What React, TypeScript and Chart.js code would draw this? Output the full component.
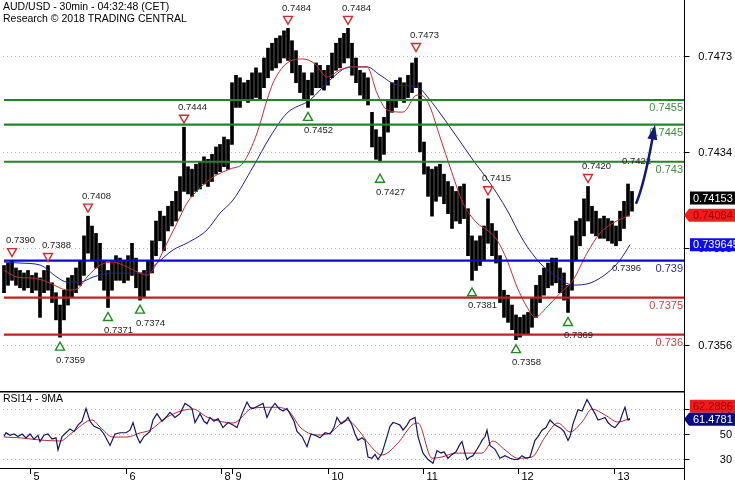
import React, { useEffect, useRef } from "react";
import { Chart, registerables } from "chart.js";

Chart.register(...registerables);

const FONT = '"Liberation Sans", Arial, Helvetica, sans-serif';

// ---------- Price bars (hourly high/low, bar k sits at index 2*(k+1), index unit = 30 min) ----------
const barHighs = [
  0.7388, 0.7389, 0.739, 0.7387, 0.7386, 0.7385, 0.7386, 0.7384, 0.7385, 0.7383,
  0.7386, 0.7388, 0.7381, 0.7377, 0.7372, 0.7378, 0.7383, 0.7384, 0.7387, 0.739,
  0.74, 0.7408, 0.7404, 0.7401, 0.7397, 0.739, 0.7386, 0.739, 0.7392, 0.7391,
  0.739, 0.7392, 0.7397, 0.7391, 0.7385, 0.7386, 0.739, 0.7398, 0.7406, 0.741,
  0.7408, 0.7412, 0.7414, 0.7418, 0.7424, 0.7444, 0.7428, 0.7427, 0.7429, 0.743,
  0.7432, 0.7431, 0.7433, 0.7436, 0.7437, 0.744, 0.7439, 0.7462, 0.7465, 0.7464,
  0.7462, 0.7463, 0.7466, 0.7468, 0.7466, 0.7472, 0.7476, 0.7478, 0.748, 0.7481,
  0.7483, 0.7484, 0.7479, 0.7475, 0.7469, 0.7466, 0.7463, 0.7466, 0.747, 0.7469,
  0.7467, 0.7469, 0.7474, 0.7478, 0.748, 0.7482, 0.7484, 0.7478, 0.7472, 0.7467,
  0.7466, 0.7464, 0.745, 0.7443, 0.744, 0.7448, 0.7455, 0.7462, 0.7463, 0.7464,
  0.7462, 0.7465, 0.747, 0.7472, 0.7462, 0.7438, 0.7428, 0.7427, 0.7428, 0.7429,
  0.7425, 0.7422, 0.742, 0.7418, 0.742, 0.7421, 0.7411, 0.74, 0.7398, 0.74,
  0.7404, 0.7415, 0.7405, 0.7402, 0.7392, 0.7378, 0.7376, 0.7372, 0.7368, 0.7367,
  0.7368, 0.7369, 0.7375, 0.738, 0.7384, 0.7387, 0.7389, 0.7391, 0.7391, 0.7387,
  0.7385, 0.738, 0.74, 0.7406, 0.7407, 0.7415, 0.742, 0.7412, 0.741, 0.7407,
  0.7408, 0.7407, 0.7406, 0.7404, 0.741, 0.7414, 0.7421, 0.7418,
];
const barLows = [
  0.7377, 0.738, 0.7382, 0.738, 0.7379, 0.7378, 0.7379, 0.7377, 0.7378, 0.7367,
  0.7377, 0.7378, 0.7373, 0.7366, 0.7359, 0.7366, 0.7372, 0.7375, 0.7377, 0.738,
  0.7384, 0.7393, 0.739, 0.7387, 0.7382, 0.7378, 0.7371, 0.7378, 0.7382, 0.7382,
  0.7381, 0.7382, 0.7384, 0.7379, 0.7374, 0.7375, 0.7378, 0.7385, 0.7392, 0.7398,
  0.7394, 0.7402, 0.7404, 0.7406, 0.741, 0.7418, 0.7417, 0.7416, 0.7418, 0.7419,
  0.7421, 0.742, 0.7422, 0.7425, 0.7426, 0.7428, 0.7427, 0.7437, 0.7452, 0.7452,
  0.7455, 0.7454, 0.7455, 0.7456, 0.7455, 0.746, 0.7464, 0.7467, 0.7468, 0.747,
  0.7472, 0.7471, 0.7466, 0.7462, 0.7458, 0.7455, 0.7452, 0.7457, 0.746, 0.746,
  0.7459, 0.7461, 0.7464, 0.7467, 0.7468, 0.747, 0.7472, 0.7465, 0.7462, 0.7457,
  0.7455, 0.7453, 0.7436, 0.7431, 0.743, 0.7433, 0.7442, 0.745, 0.7452, 0.7455,
  0.7454, 0.7456, 0.7458, 0.746, 0.7434, 0.7425, 0.7416, 0.7408, 0.7414, 0.7416,
  0.7413, 0.7409, 0.7403, 0.7406, 0.7405, 0.7407, 0.7392, 0.7382, 0.7386, 0.7388,
  0.739, 0.7397, 0.7392, 0.7389, 0.7373, 0.7367, 0.7365, 0.7362, 0.7358, 0.7359,
  0.736, 0.736, 0.7363, 0.7367, 0.7373, 0.7376, 0.7379, 0.738, 0.7381, 0.7377,
  0.7374, 0.7369, 0.7378, 0.739, 0.7396, 0.74, 0.7406, 0.7401, 0.74, 0.7399,
  0.7399, 0.7398, 0.7397, 0.7396, 0.7398, 0.7403, 0.7408, 0.741,
];
const lastClose = 0.74153;

// ---------- Moving averages ----------
const redMaIdx = [
  2, 8.5, 16.5, 25, 30, 33.5, 38.5, 43.5, 50, 56.5, 63.5, 70, 73.5, 78.5, 83.5, 88.5, 93.5, 100, 106.5, 115,
  121.5, 128.5, 133.5, 136.5, 141.5, 146.5, 151.5, 157.5, 163.5, 170, 177.5, 183.5, 188.5, 193.5, 201.5, 208.5,
  211.5, 215, 220, 225, 231.5, 238.5, 243.5, 248.5, 253.5, 258.5, 263.5, 267.5, 273.5, 280, 286.5, 293.5, 300,
  306.5, 315,
];
const redMaVals = [
  0.73862, 0.73833, 0.73829, 0.73809, 0.73789, 0.73781, 0.73785, 0.73833, 0.73882, 0.73894,
  0.73874, 0.73849, 0.73841, 0.7389, 0.73971, 0.74052, 0.74133, 0.74194, 0.74238, 0.74271,
  0.74295, 0.74416, 0.7455, 0.74619, 0.74684, 0.74712, 0.74716, 0.74696, 0.74643, 0.74672,
  0.74684, 0.74684, 0.74578, 0.7451, 0.74501, 0.7457, 0.74566, 0.74522, 0.744, 0.74279,
  0.74133, 0.74052, 0.74024, 0.73983, 0.73902, 0.73793, 0.73712, 0.73671, 0.73712, 0.73768,
  0.73821, 0.7393, 0.74011, 0.74052, 0.74084,
];
const blueMaIdx = [
  2, 10, 20, 28.5, 33.5, 40, 46.5, 55, 63.5, 71.5, 78.5, 86.5, 93.5, 103.5, 110, 116.5, 126.5, 135, 143.5, 155,
  165, 175, 183.5, 190, 198.5, 208.5, 215, 220, 228.5, 236.5, 245, 253.5, 261.5, 270, 278.5, 286.5, 295, 303.5,
  310, 315,
];
const blueMaVals = [
  0.73894, 0.7389, 0.73882, 0.73833, 0.73813, 0.73813, 0.73833, 0.73849, 0.73849, 0.73849,
  0.7389, 0.73943, 0.73971, 0.74024, 0.74092, 0.74145, 0.74279, 0.744, 0.74497, 0.7455,
  0.74631, 0.74684, 0.74684, 0.74651, 0.74611, 0.74603, 0.7455, 0.74497, 0.744, 0.74307,
  0.74214, 0.74105, 0.73983, 0.7389, 0.73833, 0.73801, 0.73809, 0.73849, 0.73902, 0.739645,
];
const redMaLast = 0.74084;
const blueMaLast = 0.739645;

// ---------- Horizontal levels ----------
const levelValues = [0.7455, 0.7445, 0.743, 0.739, 0.7375, 0.736];
const levelLabels = ["0.7455", "0.7445", "0.743", "0.739", "0.7375", "0.736"];
const levelStart = 2;
const levelEnd = 342;

// ---------- Pivots ----------
const pivotHighIdx = [6, 24, 44, 92, 144, 174, 208, 244, 294, 314];
const pivotHighVals = [0.739, 0.7388, 0.7408, 0.7444, 0.7484, 0.7484, 0.7473, 0.7415, 0.742, 0.7422];
const pivotHighLabels = ["0.7390", "0.7388", "0.7408", "0.7444", "0.7484", "0.7484", "0.7473", "0.7415", "0.7420", "0.7422"];
const pivotHighMarked = [true, true, true, true, true, true, true, true, true, false];
const pivotLowIdx = [30, 54, 70, 154, 190, 236, 258, 284, 308];
const pivotLowVals = [0.7359, 0.7371, 0.7374, 0.7452, 0.7427, 0.7381, 0.7358, 0.7369, 0.7396];
const pivotLowLabels = ["0.7359", "0.7371", "0.7374", "0.7452", "0.7427", "0.7381", "0.7358", "0.7369", "0.7396"];
const pivotLowMarked = [true, true, true, true, true, true, true, true, false];

// ---------- Forecast arrow (start, control, tip) ----------
const arrowIdx = [318, 322, 327.5];
const arrowVals = [0.7413, 0.74206, 0.7445];

// ---------- Axes ----------
const priceTickVals = [0.7473, 0.7434, 0.7395, 0.7356];
const priceTickLabels = ["0.7473", "0.7434", "0.7395", "0.7356"];
const dayTickIdx = [15, 63, 110.5, 116, 164, 211.5, 259, 307];
const dayLabels = ["5", "6", "8", "9", "10", "11", "12", "13"];
const rsiTickVals = [70, 50, 30];
const rsiTickLabels = ["70", "50", "30"];

// ---------- RSI ----------
const rsiIdx = [
  2, 3, 5, 7, 9, 11, 13, 15, 17, 19, 20, 22, 24, 26, 28, 29, 31, 33, 35, 37, 39, 41, 43, 45, 47, 50, 52, 55, 57.5, 60,
  63, 65, 66.5, 68.5, 70, 72, 75, 76.5, 78.5, 81, 83.5, 85, 87.5, 90, 92.5, 94.5, 96, 97.5, 100, 102, 103.5, 105, 107,
  109, 111.5, 114, 116.5, 118.5, 121, 123.5, 125, 126.5, 129, 131.5, 133.5, 135.5, 137.5, 139.5, 141.5, 143.5, 145,
  147, 148.5, 151, 153.5, 155.5, 157.5, 160, 162.5, 165, 167, 168.5, 170.5, 172.5, 174, 176, 177.5, 179, 181, 182.5,
  184, 186, 187.5, 189, 191, 193.5, 195, 196.5, 198.5, 200, 201.5, 203.5, 205, 207.5, 209, 211.5, 214, 216.5, 218.5,
  220.5, 222, 224, 226, 228, 230, 231, 232.5, 233.5, 235, 236.5, 238.5, 240, 241, 242.5, 243.5, 245, 247.5, 250,
  252.5, 255, 257, 259, 261, 263, 265, 266.5, 267.5, 269, 271, 273, 275, 277.5, 280, 282, 284, 285, 286.5, 289, 291,
  293.5, 295, 296, 297.5, 299, 301, 302.5, 304, 306, 307.5, 309, 310, 311, 312.5, 314, 315,
];
const rsiVals = [
  48, 51, 49, 50, 48, 50, 47, 50, 46, 49, 44, 49, 50, 46, 47, 37.5, 48, 51, 54, 52, 57, 60, 70, 60, 56, 54, 50, 41, 50, 51,
  51, 53, 59, 48, 43, 48, 52, 61, 66, 60, 64, 67, 63, 66, 74, 72, 70, 59, 66, 60, 58, 63, 60, 62, 55, 59, 57, 55, 66, 75,
  71, 70, 72, 74, 63, 70, 74, 70, 68, 70, 66, 60, 52, 48, 40, 50, 49, 47, 51, 50, 55, 63, 58, 60, 63, 57, 50, 45, 47, 45,
  32, 31, 34, 30, 35, 48, 56, 59, 58, 57, 53, 57, 61, 63, 48, 35, 30, 27, 37, 35, 36, 31, 34, 36, 42, 44, 35, 30, 32, 33,
  38, 42, 45, 48, 53, 41, 38, 31, 33, 31, 30, 30, 33, 31, 32, 40, 45, 48, 53, 55, 61, 57, 55, 52, 45, 48, 58, 69, 68, 77,
  73, 70, 66, 61, 62, 63, 59, 56, 55, 58, 60, 65, 71, 61, 61.48,
];
const rsiMaIdx = [
  2, 10, 20, 30, 36.5, 46, 50, 56.5, 63.5, 70, 75, 83.5, 96.5, 103.5, 116.5, 126.5, 138.5, 145, 150, 158.5,
  165, 173.5, 180, 184, 191, 199, 206, 209, 216, 221, 227.5, 236, 241, 246.5, 252.5, 259, 266, 272.5, 279, 285,
  291, 296, 302.5, 309, 315,
];
const rsiMaVals = [
  47.6, 47, 45.3, 44.5, 51.6, 61, 55.5, 47.6, 47.6, 50.8, 53, 63.3, 69.6, 63.3, 58.6, 70.4, 71, 67, 55.5, 49.2,
  50.8, 61, 51.6, 43, 33.5, 43, 57, 58.6, 31, 32, 35, 35, 35, 44.5, 37.5, 31, 32, 47.6, 58.6, 51.6,
  59.4, 69.6, 64.9, 59.4, 62.29,
];
const rsiLast = 61.4781;
const rsiMaLast = 62.2886;

// ---------- Ranges ----------
const X_MIN = 0;
const X_MAX = 342;
const PRICE_MIN = 0.733721;
const PRICE_MAX = 0.749548;
const RSI_MIN = 23.33;
const RSI_MAX = 83.73;

const zip = (xs: number[], ys: number[]) =>
  xs.slice(0, Math.min(xs.length, ys.length)).map((x, i) => ({ x, y: ys[i] }));

function drawBox(ctx: any, axisX: number, text: string, cy: number, bg: string, fg: string, arrow: boolean) {
  const h = 13;
  const left = axisX + 6;
  const right = axisX + 51;
  ctx.save();
  ctx.fillStyle = bg;
  ctx.beginPath();
  if (arrow) {
    ctx.moveTo(axisX, cy);
    ctx.lineTo(left - 1, cy - h / 2);
    ctx.lineTo(right, cy - h / 2);
    ctx.lineTo(right, cy + h / 2);
    ctx.lineTo(left - 1, cy + h / 2);
    ctx.closePath();
  } else {
    ctx.rect(left, cy - h / 2, right - left, h);
  }
  ctx.fill();
  ctx.fillStyle = fg;
  ctx.font = `11px ${FONT}`;
  ctx.textAlign = "left";
  ctx.textBaseline = "middle";
  ctx.fillText(text, axisX + 9, cy + 0.5);
  ctx.restore();
}

function hLine(ctx: any, x0: number, x1: number, y: number) {
  ctx.beginPath();
  ctx.moveTo(x0, y);
  ctx.lineTo(x1, y);
  ctx.stroke();
}

const mainPlugin = {
  id: "mainDeco",
  beforeDatasetsDraw(chart: any) {
    const { ctx, chartArea: a, scales } = chart;
    const y = scales.y;
    ctx.save();
    ctx.strokeStyle = "#b4b4b4";
    ctx.lineWidth = 1;
    ctx.setLineDash([1, 3]);
    priceTickVals.forEach((v) => {
      const py = Math.round(y.getPixelForValue(v)) + 0.5;
      hLine(ctx, a.left + 3, a.right, py);
    });
    ctx.restore();
  },
  afterDatasetsDraw(chart: any) {
    const { ctx, chartArea: a, scales } = chart;
    const x = scales.x;
    const y = scales.y;
    ctx.save();

    // level labels
    const levelTextColors = ["#3f8f3f", "#3f8f3f", "#3f8f3f", "#2f2fa0", "#c84646", "#c84646"];
    ctx.font = `11px ${FONT}`;
    ctx.textAlign = "right";
    ctx.textBaseline = "middle";
    levelValues.forEach((v, i) => {
      ctx.fillStyle = levelTextColors[i];
      ctx.fillText(levelLabels[i], a.right - 1, y.getPixelForValue(v) + 8);
    });

    // pivots
    ctx.font = `9.5px ${FONT}`;
    ctx.textAlign = "left";
    ctx.lineWidth = 1.4;
    pivotHighIdx.forEach((idx, i) => {
      const px = x.getPixelForValue(idx);
      const py = y.getPixelForValue(pivotHighVals[i]);
      if (pivotHighMarked[i]) {
        const ty = py - 8;
        ctx.beginPath();
        ctx.moveTo(px - 4.5, ty - 4);
        ctx.lineTo(px + 4.5, ty - 4);
        ctx.lineTo(px, ty + 4);
        ctx.closePath();
        ctx.fillStyle = "#ffffff";
        ctx.fill();
        ctx.strokeStyle = "#d42a2a";
        ctx.stroke();
      }
      ctx.fillStyle = "#1e1e1e";
      ctx.fillText(pivotHighLabels[i], px - 6, py - 20);
    });
    pivotLowIdx.forEach((idx, i) => {
      const px = x.getPixelForValue(idx);
      const py = y.getPixelForValue(pivotLowVals[i]);
      if (pivotLowMarked[i]) {
        const ty = py + 9;
        ctx.beginPath();
        ctx.moveTo(px - 4.5, ty + 4);
        ctx.lineTo(px + 4.5, ty + 4);
        ctx.lineTo(px, ty - 4);
        ctx.closePath();
        ctx.fillStyle = "#ffffff";
        ctx.fill();
        ctx.strokeStyle = "#1f8a1f";
        ctx.stroke();
      }
      ctx.fillStyle = "#1e1e1e";
      ctx.fillText(pivotLowLabels[i], px - 4, py + 23);
    });

    // forecast arrow
    const p0 = { x: x.getPixelForValue(arrowIdx[0]), y: y.getPixelForValue(arrowVals[0]) };
    const c = { x: x.getPixelForValue(arrowIdx[1]), y: y.getPixelForValue(arrowVals[1]) };
    const p1 = { x: x.getPixelForValue(arrowIdx[2]), y: y.getPixelForValue(arrowVals[2]) };
    const dx = p1.x - c.x;
    const dy = p1.y - c.y;
    const len = Math.hypot(dx, dy);
    const ux = dx / len;
    const uy = dy / len;
    const headLen = 15;
    const baseX = p1.x - ux * headLen;
    const baseY = p1.y - uy * headLen;
    ctx.strokeStyle = "#101a78";
    ctx.fillStyle = "#101a78";
    ctx.lineWidth = 2.5;
    ctx.beginPath();
    ctx.moveTo(p0.x, p0.y);
    ctx.quadraticCurveTo(c.x, c.y, baseX + ux * 2, baseY + uy * 2);
    ctx.stroke();
    ctx.beginPath();
    ctx.moveTo(p1.x, p1.y);
    ctx.lineTo(baseX - uy * 5, baseY + ux * 5);
    ctx.lineTo(baseX + uy * 5, baseY - ux * 5);
    ctx.closePath();
    ctx.fill();

    // right axis
    const ax = a.right + 0.5;
    ctx.strokeStyle = "#000";
    ctx.lineWidth = 1;
    ctx.beginPath();
    ctx.moveTo(ax, 0);
    ctx.lineTo(ax, chart.height);
    ctx.stroke();
    ctx.font = `11px ${FONT}`;
    ctx.textAlign = "right";
    ctx.textBaseline = "middle";
    ctx.fillStyle = "#000";
    priceTickVals.forEach((v, i) => {
      const py = Math.round(y.getPixelForValue(v)) + 0.5;
      hLine(ctx, ax, ax + 5, py);
      ctx.fillText(priceTickLabels[i], a.right + 48, py + 0.5);
    });

    // value boxes
    drawBox(ctx, a.right, lastClose.toFixed(5), y.getPixelForValue(lastClose), "#000000", "#ffffff", false);
    drawBox(ctx, a.right, redMaLast.toFixed(5), y.getPixelForValue(redMaLast), "#ee1c1c", "#9a0000", true);
    drawBox(ctx, a.right, blueMaLast.toFixed(6), y.getPixelForValue(blueMaLast), "#0c0cec", "#ffffff", false);

    // title
    ctx.font = `10.5px ${FONT}`;
    ctx.textAlign = "left";
    ctx.fillStyle = "#000";
    ctx.fillText("AUD/USD - 30min - 04:32:48 (CET)", 3, 7.5);
    ctx.fillText("Research \u00a9 2018 TRADING CENTRAL", 3, 19);
    ctx.restore();
  },
};

const rsiPlugin = {
  id: "rsiDeco",
  beforeDatasetsDraw(chart: any) {
    const { ctx, chartArea: a, scales } = chart;
    const y = scales.y;
    ctx.save();
    ctx.strokeStyle = "#b4b4b4";
    ctx.lineWidth = 1;
    ctx.setLineDash([1, 3]);
    rsiTickVals.forEach((v) => {
      const py = Math.round(y.getPixelForValue(v)) + 0.5;
      hLine(ctx, a.left + 3, a.right, py);
    });
    ctx.restore();
  },
  afterDatasetsDraw(chart: any) {
    const { ctx, chartArea: a, scales } = chart;
    const x = scales.x;
    const y = scales.y;
    ctx.save();
    ctx.strokeStyle = "#000";
    ctx.lineWidth = 1.5;
    hLine(ctx, a.left, a.right, a.top + 0.75);
    ctx.lineWidth = 1;
    hLine(ctx, a.left, a.right, a.bottom + 0.5);
    const ax = a.right + 0.5;
    ctx.beginPath();
    ctx.moveTo(ax, 0);
    ctx.lineTo(ax, chart.height);
    ctx.stroke();

    // rsi ticks
    ctx.font = `11px ${FONT}`;
    ctx.textAlign = "right";
    ctx.textBaseline = "middle";
    ctx.fillStyle = "#000";
    rsiTickVals.forEach((v, i) => {
      const py = Math.round(y.getPixelForValue(v)) + 0.5;
      hLine(ctx, ax, ax + 5, py);
      ctx.fillText(rsiTickLabels[i], a.right + 48, py + 0.5);
    });

    // day ticks
    ctx.textAlign = "left";
    ctx.textBaseline = "top";
    dayTickIdx.forEach((idx, i) => {
      const px = Math.round(x.getPixelForValue(idx)) + 0.5;
      ctx.beginPath();
      ctx.moveTo(px, a.bottom);
      ctx.lineTo(px, a.bottom + 6);
      ctx.stroke();
      ctx.fillText(dayLabels[i], px + 3, a.bottom + 3);
    });

    // title
    ctx.font = `10.5px ${FONT}`;
    ctx.textBaseline = "middle";
    ctx.fillText("RSI14 - 9MA", 3, a.top + 8.5);

    // value boxes (MA box lifted above RSI box if they would overlap)
    const yR = y.getPixelForValue(rsiLast);
    let yM = y.getPixelForValue(rsiMaLast);
    if (Math.abs(yM - yR) < 13) yM = yR - 13;
    drawBox(ctx, a.right, rsiMaLast.toFixed(4), yM, "#ee1c1c", "#9a0000", false);
    drawBox(ctx, a.right, rsiLast.toFixed(4), yR, "#0a0a84", "#ffffff", true);
    ctx.restore();
  },
};

export default function App() {
  const mainRef = useRef<HTMLCanvasElement | null>(null);
  const rsiRef = useRef<HTMLCanvasElement | null>(null);

  useEffect(() => {
    document.body.style.margin = "0";
    if (!mainRef.current || !rsiRef.current) return;

    const barData = barHighs.map((h, k) => ({ x: 2 * (k + 1), y: [barLows[k], h] }));
    const levelColors = ["#21862a", "#21862a", "#21862a", "#0a0ac8", "#c81e1e", "#c81e1e"];

    const levelSets = levelValues.map((v, i) => ({
      type: "line" as const,
      data: [
        { x: levelStart, y: v },
        { x: levelEnd, y: v },
      ],
      borderColor: levelColors[i],
      borderWidth: 2.2,
      pointRadius: 0,
      order: 0,
    }));

    const main = new Chart(mainRef.current, {
      type: "line",
      data: {
        datasets: [
          ...levelSets,
          {
            type: "line",
            data: zip(redMaIdx, redMaVals),
            borderColor: "#c8282d",
            borderWidth: 1,
            pointRadius: 0,
            cubicInterpolationMode: "monotone",
            order: 1,
          },
          {
            type: "line",
            data: zip(blueMaIdx, blueMaVals),
            borderColor: "#1f1f96",
            borderWidth: 1,
            pointRadius: 0,
            cubicInterpolationMode: "monotone",
            order: 1,
          },
          {
            type: "bar",
            data: barData as any,
            backgroundColor: "#000000",
            borderWidth: 0,
            barThickness: 3,
            grouped: false,
            order: 2,
          } as any,
        ],
      },
      options: {
        animation: false,
        responsive: false,
        events: [],
        layout: { padding: { left: 0, right: 51, top: 0, bottom: 0 } },
        plugins: { legend: { display: false }, tooltip: { enabled: false } },
        scales: {
          x: { type: "linear", display: false, min: X_MIN, max: X_MAX, offset: false },
          y: { type: "linear", display: false, min: PRICE_MIN, max: PRICE_MAX },
        },
      } as any,
      plugins: [mainPlugin],
    });

    const rsi = new Chart(rsiRef.current, {
      type: "line",
      data: {
        datasets: [
          {
            data: zip(rsiIdx, rsiVals),
            borderColor: "#141464",
            borderWidth: 1.2,
            pointRadius: 0,
            tension: 0,
            order: 0,
          },
          {
            data: zip(rsiMaIdx, rsiMaVals),
            borderColor: "#b8282d",
            borderWidth: 1,
            pointRadius: 0,
            cubicInterpolationMode: "monotone",
            order: 1,
          },
        ],
      },
      options: {
        animation: false,
        responsive: false,
        events: [],
        layout: { padding: { left: 0, right: 51, top: 0, bottom: 12 } },
        plugins: { legend: { display: false }, tooltip: { enabled: false } },
        scales: {
          x: { type: "linear", display: false, min: X_MIN, max: X_MAX, offset: false },
          y: { type: "linear", display: false, min: RSI_MIN, max: RSI_MAX },
        },
      } as any,
      plugins: [rsiPlugin],
    });

    return () => {
      main.destroy();
      rsi.destroy();
    };
  }, []);

  return (
    <div style={{ position: "relative", width: 735, height: 480, background: "#ffffff", overflow: "hidden" }}>
      <style>{"body{margin:0;background:#ffffff;}"}</style>
      <canvas
        ref={mainRef}
        width={735}
        height={391}
        style={{ position: "absolute", left: 0, top: 0, display: "block" }}
      />
      <canvas
        ref={rsiRef}
        width={735}
        height={89}
        style={{ position: "absolute", left: 0, top: 391, display: "block" }}
      />
    </div>
  );
}
